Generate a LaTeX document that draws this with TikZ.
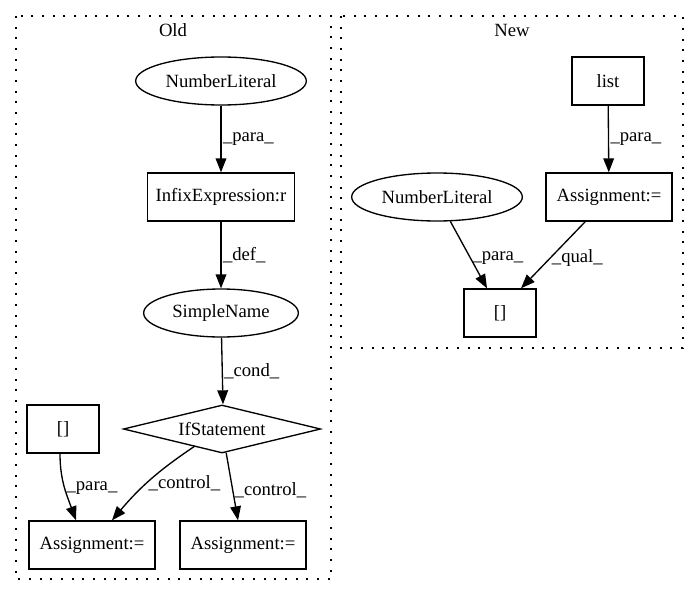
\documentclass[tikz,border=0pt]{standalone}
\usepackage{fontspec}
\setmainfont{Liberation Serif}
\usetikzlibrary{arrows.meta,positioning,shapes.geometric}

\begin{document}
\begin{tikzpicture}[
  x = 0.75pt, y = -0.75pt,
  node distance   = 87pt,
  font            = \fontsize{14}{16}\selectfont,
  stmt/.style     = {rectangle, black, draw, line width=1pt, minimum width=54pt , text centered, minimum height=36pt, inner sep=0pt},
  literal/.style  = {ellipse  , black, draw, line width=1pt, minimum width=128pt, text centered, minimum height=36pt, inner sep=0pt},
  branch/.style   = {diamond  , black, draw, line width=1pt, minimum width=148pt, text centered, minimum height=36pt, inner sep=0pt, aspect=4},
  flow/.style     = {black, line width=1pt, -{Triangle[length=10.5pt, width=8pt]}},
  lbl/.style      = {right, inner sep=1pt},
  cluster/.style  = {black, line width=1pt, dash pattern=on 1.5pt off 6.5pt},
  ]
  \useasboundingbox (0,0) rectangle (699,596);
  % clusters
  \draw[cluster] (16,16) rectangle (331,579);
  \draw[cluster] (341,16) rectangle (683,348);
  \node (oldtitle) at (173,30) {Old};
  \node (newtitle) at (512,30) {New};
  % old version
  \node[literal] (oldnum) at (221,81) {NumberLiteral};
  \node[stmt, minimum width=110pt, below of=oldnum] (infix) {InfixExpression:r};
  \node[literal, minimum width=116pt, below of=infix] (simple) {SimpleName};
  \node[branch] (ifst) at (222,429) {IfStatement};
  \node[stmt] (oldidx) at (63,429) {[]};
  \node[stmt, minimum width=94.5pt] (oldasgl) at (92,545) {Assignment:=};
  \node[stmt, minimum width=94.5pt] (oldasgr) at (243,545) {Assignment:=};
  % new version
  \node[stmt] (list) at (608,81) {list};
  \node[stmt, minimum width=94.5pt] (newasg) at (609,197) {Assignment:=};
  \node[literal] (newnum) at (437,197) {NumberLiteral};
  \node[stmt] (newidx) at (500,313) {[]};
  % edges
  \draw[flow] (oldnum) -- node[lbl] {\_para\_} (infix);
  \draw[flow] (infix) -- node[lbl] {\_def\_} (simple);
  \draw[flow] (simple) -- node[lbl] {\_cond\_} ([xshift=0.75pt]ifst.north);
  \draw[flow] ([xshift=-2.25pt]oldidx.south) to[out=-90, in=110] node[lbl] {\_para\_} ([xshift=-12pt]oldasgl.north);
  \draw[flow] ([shift={(-27,17)}]ifst.center) to[bend right=8] node[lbl, pos=.55] {\_control\_} ([xshift=15pt]oldasgl.north);
  \draw[flow] (ifst) -- node[lbl, pos=.55] {\_control\_} ([xshift=-3.75pt]oldasgr.north);
  \draw[flow] (list) -- node[lbl] {\_para\_} (newasg);
  \draw[flow] (newnum) -- node[lbl, pos=.55] {\_para\_} ([xshift=-9.75pt]newidx.north);
  \draw[flow] (newasg) -- node[lbl, pos=.55] {\_qual\_} ([xshift=15.75pt]newidx.north);
\end{tikzpicture}
\end{document}
